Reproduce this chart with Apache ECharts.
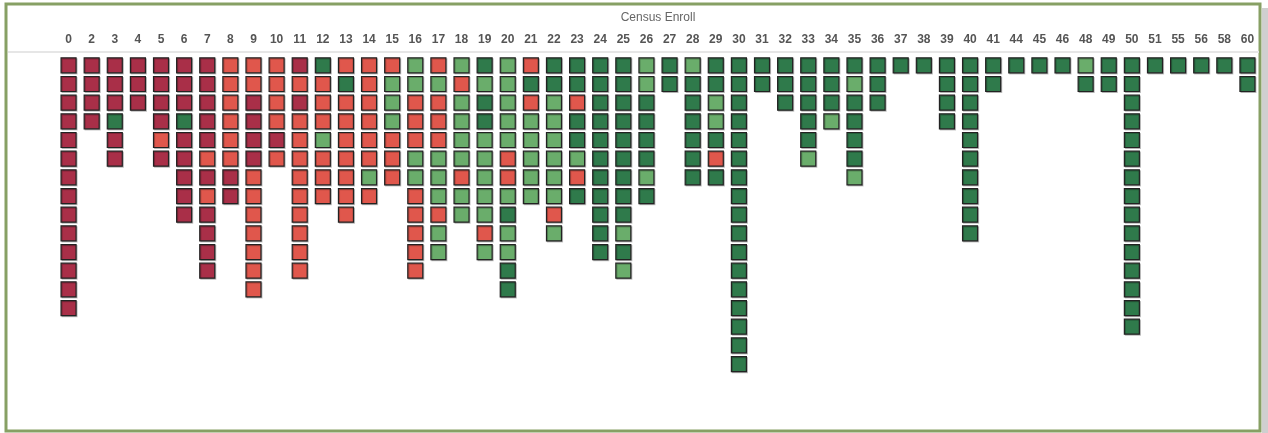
<!DOCTYPE html>
<html>
<head>
<meta charset="utf-8">
<script src="https://cdn.jsdelivr.net/npm/echarts@6/dist/echarts.min.js"></script>
<style>
  html, body { margin: 0; padding: 0; background: #fff; }
  #chart { width: 1268px; height: 433px; }
</style>
</head>
<body>
<div id="chart"></div>
<script>
  // census enroll values (columns)
  const categories = ["0", "2", "3", "4", "5", "6", "7", "8", "9", "10", "11", "12", "13", "14", "15", "16", "17", "18", "19", "20",
    "21", "22", "23", "24", "25", "26", "27", "28", "29", "30", "31", "32", "33", "34", "35", "36", "37", "38", "39", "40",
    "41", "44", "45", "46", "48", "49", "50", "51", "55", "56", "58", "60"];

  // one letter per record, top to bottom: D dark red, R red, L light green, G green
  const stacks = [
    "DDDDDDDDDDDDDD", "DDDD", "DDDGDD", "DDD", "DDDDRD", "DDDGDDDDD", "DDDDDRDRDDDD", "RRRRRRDD",
    "RRDDDDRRRRRRR", "RRRRDR", "DRDRRRRRRRRR", "GRRRLRRR", "RGRRRRRRR", "RRRRRRLR", "RLLLRRR",
    "LLRRRLLRRRRR", "RLRRRLLLRLL", "LRLLLLRLL", "GLGGLLLLLRL", "LLLLLRRLGLLGG", "RGRLLLLL",
    "GGLLLLLLRL", "GGRGGLRG", "GGGGGGGGGGG", "GGGGGGGGGLGL", "LLGGGGLG", "GG", "LGGGGGG", "GGLLGRG",
    "GGGGGGGGGGGGGGGGG", "GG", "GGG", "GGGGGL", "GGGL", "GLGGGGL", "GGG", "G", "G", "GGGG",
    "GGGGGGGGGG", "GG", "G", "G", "G", "LG", "GG", "GGGGGGGGGGGGGGG", "G", "G", "G", "G", "GG"
  ];

  const groups = ["D", "R", "L", "G"];
  const palette = { D: "#a92f48", R: "#e0574c", L: "#6aad6b", G: "#2f7a4b" };

  const chart = echarts.init(document.getElementById("chart"));

  const series = groups.map((key) => {
    const data = [];
    stacks.forEach((codes, col) => {
      codes.split("").forEach((c, row) => {
        if (c === key) data.push([col, row + 0.5]);
      });
    });
    return {
      name: key,
      type: "scatter",
      symbol: "rect",
      symbolSize: 15,
      data,
      itemStyle: {
        color: palette[key],
        opacity: 1,
        borderColor: "#222",
        borderWidth: 1.2,
        shadowColor: "rgba(0,0,0,0.22)",
        shadowOffsetX: 1,
        shadowOffsetY: 1,
        shadowBlur: 0,
      },
      emphasis: { disabled: true },
    };
  });

  const option = {
    animation: false,
    backgroundColor: "#fff",
    grid: { left: 57, right: 9, top: 56, height: 373.4 },
    xAxis: {
      type: "category",
      position: "top",
      data: categories,
      axisLine: { show: false },
      axisTick: { show: false },
      splitLine: { show: false },
      axisLabel: {
        interval: 0,
        margin: 10,
        color: "#555",
        fontSize: 12,
        fontWeight: "bold",
        fontFamily: "Liberation Sans, Arial, sans-serif",
      },
    },
    yAxis: {
      type: "value",
      inverse: true,
      min: 0,
      max: 20,
      show: false,
    },
    series,
    graphic: [
      {
        type: "rect",
        shape: { x: 1262, y: 8, width: 6, height: 425 },
        style: { fill: "#cfcfcf" },
        silent: true,
      },
      {
        type: "rect",
        shape: { x: 6, y: 4, width: 1254, height: 427 },
        style: { fill: "none", stroke: "#87a064", lineWidth: 3 },
        silent: true,
      },
      {
        type: "line",
        shape: { x1: 8, y1: 52, x2: 1259, y2: 52 },
        style: { stroke: "#e6e6e6", lineWidth: 2 },
        silent: true,
      },
      {
        type: "text",
        x: 658,
        y: 18,
        style: {
          text: "Census Enroll",
          fill: "#666",
          fontSize: 12,
          fontFamily: "Liberation Sans, Arial, sans-serif",
          textAlign: "center",
          textVerticalAlign: "middle",
        },
        silent: true,
      },
    ],
  };

  chart.setOption(option);
</script>
</body>
</html>
